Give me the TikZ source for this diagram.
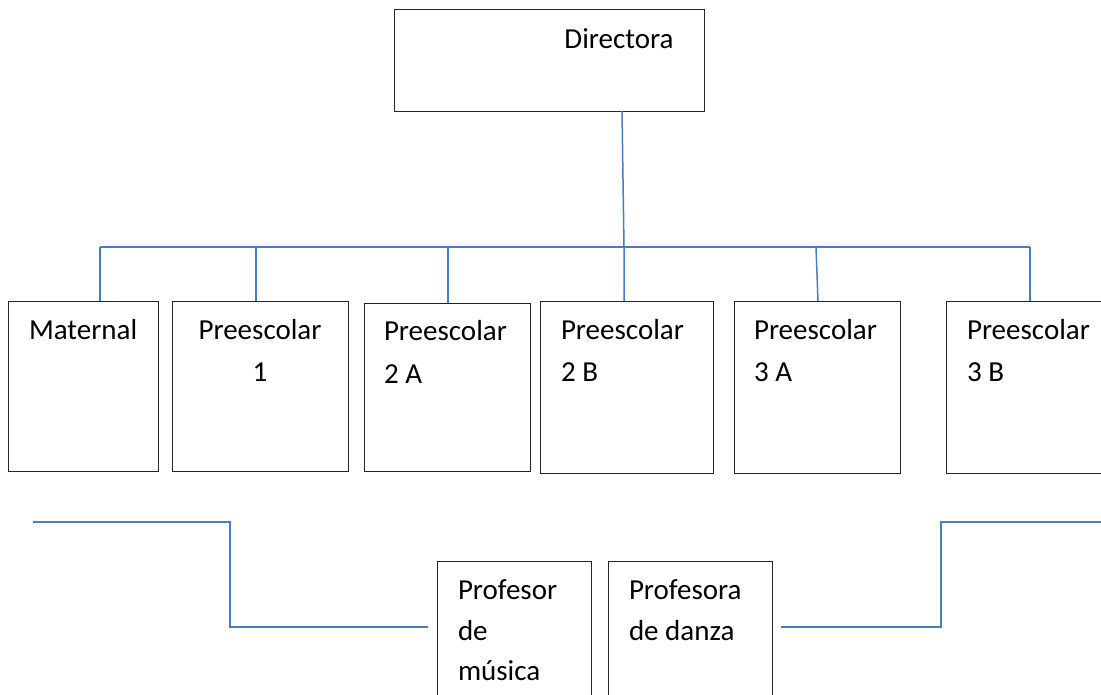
\documentclass[tikz,border=0pt]{standalone}
\usepackage{fontspec}
\setmainfont{Carlito}
\definecolor{linkblue}{HTML}{4A7EBB}
\definecolor{boxline}{HTML}{262626}
\begin{document}
\begin{tikzpicture}[x=1pt,y=-1pt,
  orgbox/.style={draw=boxline,line width=1pt,rectangle,anchor=north west,inner sep=0pt,outer sep=0pt},
  lbl/.style={inner sep=0pt,outer sep=0pt,font=\fontsize{29}{34}\selectfont},
  link/.style={draw=linkblue,line width=1.5pt}]
\useasboundingbox (0,0) rectangle (1101,694);
\clip (0,0) rectangle (1101,694);
\fill[white] (0,0) rectangle (1101,694);
% boxes
\node[orgbox,minimum width=310pt,minimum height=102pt] (dir) at (394,9) {};
\node[orgbox,minimum width=150pt,minimum height=170pt] (mat) at (8,301) {};
\node[orgbox,minimum width=176pt,minimum height=170pt] (p1) at (172,301) {};
\node[orgbox,minimum width=166pt,minimum height=168pt] (p2a) at (364,303) {};
\node[orgbox,minimum width=173pt,minimum height=172pt] (p2b) at (540,301) {};
\node[orgbox,minimum width=166pt,minimum height=172pt] (p3a) at (734,301) {};
\node[orgbox,minimum width=175pt,minimum height=172pt] (p3b) at (946,301) {};
\node[orgbox,minimum width=154pt,minimum height=150pt] (pm) at (437,561) {};
\node[orgbox,minimum width=164pt,minimum height=150pt] (pd) at (608,561) {};
% labels
\node[lbl,anchor=base] (tdir) at (619,48) {Directora};
\node[lbl,anchor=base west] (tmat) at (29,339) {Maternal};
\node[lbl,anchor=base] (tp1a) at (260,339) {Preescolar};
\node[lbl,anchor=base] (tp1b) at (260,381) {1};
\node[lbl,anchor=base west] (tp2aa) at (384,340) {Preescolar};
\node[lbl,anchor=base west] (tp2ab) at (384,383) {2 A};
\node[lbl,anchor=base west] (tp2ba) at (561,339) {Preescolar};
\node[lbl,anchor=base west] (tp2bb) at (561,381) {2 B};
\node[lbl,anchor=base west] (tp3aa) at (754,339) {Preescolar};
\node[lbl,anchor=base west] (tp3ab) at (754,381) {3 A};
\node[lbl,anchor=base west] (tp3ba) at (967,339) {Preescolar};
\node[lbl,anchor=base west] (tp3bb) at (967,381) {3 B};
\node[lbl,anchor=base west] (tpma) at (458,599) {Profesor};
\node[lbl,anchor=base west] (tpmb) at (458,640) {de};
\node[lbl,anchor=base west] (tpmc) at (458,680) {música};
\node[lbl,anchor=base west] (tpda) at (629,599) {Profesora};
\node[lbl,anchor=base west] (tpdb) at (629,640) {de danza};
% bus coordinates
\coordinate (dtop) at (622,111);
\coordinate (bmain) at (624,247);
\coordinate (bl) at (100,247);
\coordinate (br) at (1030,247);
\coordinate (b1) at (256,247);
\coordinate (b2a) at (448,247);
\coordinate (b3a) at (816,247);
% connectors
\draw[link] (dtop) -- (bmain) -- (bmain |- p2b.north);
\draw[link] (bl) -- (br);
\draw[link] (bl) -- (bl |- mat.north);
\draw[link] (b1) -- (b1 |- p1.north);
\draw[link] (b2a) -- (b2a |- p2a.north);
\draw[link] (b3a) -- (818,301);
\draw[link] (br) -- (br |- p3b.north);
% lower connectors
\coordinate (ll0) at (33,522);
\coordinate (ll1) at (230,522);
\coordinate (ll2) at (230,627);
\coordinate (ll3) at (428,627);
\coordinate (rl0) at (781,627);
\coordinate (rl1) at (941,627);
\coordinate (rl2) at (941,522);
\coordinate (rl3) at (1101,522);
\draw[link] (ll0) -- (ll1) -- (ll2) -- (ll3);
\draw[link] (rl0) -- (rl1) -- (rl2) -- (rl3);
\end{tikzpicture}
\end{document}
